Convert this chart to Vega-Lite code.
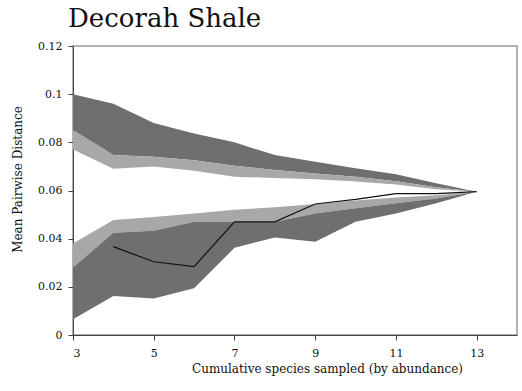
{
  "$schema": "https://vega.github.io/schema/vega-lite/v6.json",
  "width": 444,
  "height": 289,
  "autosize": {"type": "none"},
  "padding": {"left": 73, "top": 46, "right": 5, "bottom": 56},
  "background": "white",
  "title": {
    "text": "Decorah Shale",
    "anchor": "start",
    "frame": "group",
    "font": "DejaVu Serif",
    "fontSize": 26,
    "fontWeight": "normal",
    "color": "#111",
    "dx": -5,
    "offset": 8
  },
  "config": {
    "view": {"stroke": "#9a9a9a", "strokeWidth": 1.5},
    "font": "DejaVu Serif",
    "axis": {
      "grid": false,
      "domainColor": "#444",
      "tickColor": "#444",
      "labelColor": "#111",
      "titleColor": "#111",
      "labelFont": "DejaVu Serif",
      "titleFont": "DejaVu Serif",
      "labelFontSize": 11,
      "titleFontSize": 12,
      "titleFontWeight": "normal",
      "tickSize": 5
    }
  },
  "data": {
    "values": [
      {"x": 3, "uo": 0.1, "um": 0.085, "ui": 0.077, "li": 0.038, "lm": 0.028, "lo": 0.0065, "mean": null},
      {"x": 4, "uo": 0.096, "um": 0.0747, "ui": 0.069, "li": 0.0477, "lm": 0.0425, "lo": 0.0162, "mean": 0.0367},
      {"x": 5, "uo": 0.088, "um": 0.074, "ui": 0.07, "li": 0.049, "lm": 0.0433, "lo": 0.0152, "mean": 0.0304},
      {"x": 6, "uo": 0.0837, "um": 0.0726, "ui": 0.0682, "li": 0.0505, "lm": 0.047, "lo": 0.0194, "mean": 0.0284},
      {"x": 7, "uo": 0.08, "um": 0.0703, "ui": 0.0657, "li": 0.052, "lm": 0.047, "lo": 0.0362, "mean": 0.047},
      {"x": 8, "uo": 0.0747, "um": 0.0685, "ui": 0.0652, "li": 0.053, "lm": 0.047, "lo": 0.0405, "mean": 0.047},
      {"x": 9, "uo": 0.0719, "um": 0.0671, "ui": 0.0647, "li": 0.0544, "lm": 0.0505, "lo": 0.0387, "mean": 0.0544},
      {"x": 10, "uo": 0.0692, "um": 0.0657, "ui": 0.0637, "li": 0.0558, "lm": 0.0526, "lo": 0.047, "mean": 0.0563},
      {"x": 11, "uo": 0.0667, "um": 0.0638, "ui": 0.0625, "li": 0.0571, "lm": 0.0547, "lo": 0.0505, "mean": 0.0587},
      {"x": 12, "uo": 0.063, "um": 0.0613, "ui": 0.0605, "li": 0.058, "lm": 0.0567, "lo": 0.0547, "mean": 0.0587},
      {"x": 13, "uo": 0.0595, "um": 0.0595, "ui": 0.0595, "li": 0.0595, "lm": 0.0595, "lo": 0.0595, "mean": 0.0595}
    ]
  },
  "encoding": {
    "x": {
      "field": "x",
      "type": "quantitative",
      "scale": {"domain": [3, 14], "nice": false},
      "axis": {
        "values": [3, 5, 7, 9, 11, 13],
        "title": "Cumulative species sampled (by abundance)",
        "labelPadding": 7,
        "titleX": 254,
        "titleY": 37,
        "titleAlign": "center",
        "titleBaseline": "alphabetic"
      }
    }
  },
  "layer": [
    {
      "mark": {"type": "area", "color": "#6f6f6f", "opacity": 1},
      "encoding": {
        "y": {
          "field": "uo",
          "type": "quantitative",
          "scale": {"domain": [0, 0.12], "nice": false},
          "axis": {
            "values": [0, 0.02, 0.04, 0.06, 0.08, 0.1, 0.12],
            "format": ".2~f",
            "title": "Mean Pairwise Distance",
            "labelPadding": 6,
            "titleX": -52,
            "titleY": 133,
            "titleAlign": "center",
            "titleBaseline": "alphabetic"
          }
        },
        "y2": {"field": "um"}
      }
    },
    {
      "mark": {"type": "area", "color": "#a8a8a8", "opacity": 1},
      "encoding": {
        "y": {"field": "um", "type": "quantitative"},
        "y2": {"field": "ui"}
      }
    },
    {
      "mark": {"type": "area", "color": "#a8a8a8", "opacity": 1},
      "encoding": {
        "y": {"field": "li", "type": "quantitative"},
        "y2": {"field": "lm"}
      }
    },
    {
      "mark": {"type": "area", "color": "#6f6f6f", "opacity": 1},
      "encoding": {
        "y": {"field": "lm", "type": "quantitative"},
        "y2": {"field": "lo"}
      }
    },
    {
      "transform": [{"filter": "isValid(datum.mean)"}],
      "mark": {"type": "line", "color": "#111", "strokeWidth": 1.2},
      "encoding": {
        "y": {"field": "mean", "type": "quantitative"}
      }
    }
  ]
}
